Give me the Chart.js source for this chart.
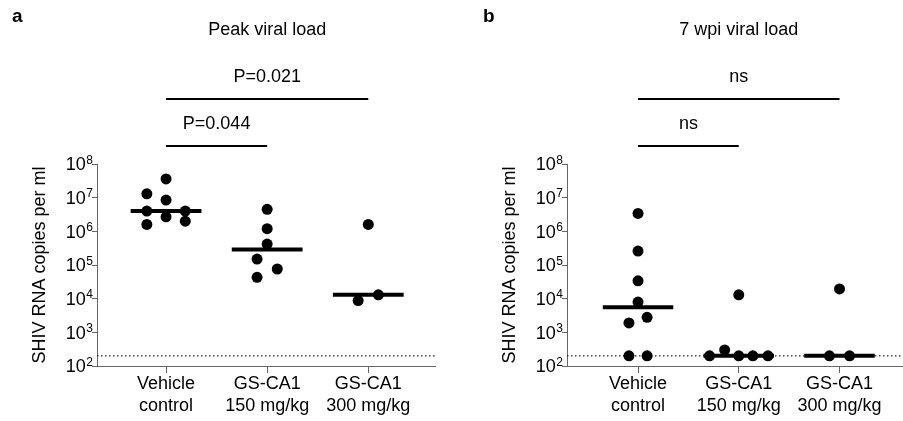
<!DOCTYPE html>
<html><head><meta charset="utf-8">
<script src="https://cdn.jsdelivr.net/npm/chart.js@4.4.1/dist/chart.umd.min.js"></script>
<style>
html,body{margin:0;padding:0;background:#fff;}
#wrap{position:relative;width:903px;height:421px;overflow:hidden;background:#fff;}
canvas{position:absolute;top:0;}
</style></head><body>
<div id="wrap">
<canvas id="cA" width="460" height="421" style="left:0;width:460px;height:421px"></canvas>
<canvas id="cB" width="470" height="421" style="left:460px;width:470px;height:421px"></canvas>
</div>
<script>
// ---------- DATA ----------
const categories = [["Vehicle", "control"], ["GS-CA1", "150 mg/kg"], ["GS-CA1", "300 mg/kg"]];
const yTickExponents = [2, 3, 4, 5, 6, 7, 8];
const detectionLimit = 200;
const yAxisTitle = "SHIV RNA copies per ml";

// Panel a: peak viral load
const peakVehicle = [3.6e7, 1.3e7, 8.5e6, 4.0e6, 4.0e6, 2.7e6, 2.0e6, 1.6e6];
const peak150 = [4.5e6, 1.2e6, 4.2e5, 1.5e5, 7.6e4, 4.3e4];
const peak300 = [1.6e6, 1.3e4, 8.8e3];
const peakMedians = [4.0e6, 2.9e5, 1.3e4];
const peakComparisons = [
  { from: 0, to: 2, label: "P=0.021" },
  { from: 0, to: 1, label: "P=0.044" }
];

// Panel b: 7 wpi viral load
const wpiVehicle = [3.4e6, 2.6e5, 3.4e4, 7.9e3, 2.8e3, 1.9e3, 200, 200];
const wpi150 = [1.3e4, 300, 200, 200, 200, 200];
const wpi300 = [1.95e4, 200, 200];
const wpiMedians = [5.6e3, 200, 200];
const wpiComparisons = [
  { from: 0, to: 2, label: "ns" },
  { from: 0, to: 1, label: "ns" }
];

// horizontal spread of dots within a group (category units)
const peakJitter = [
  [0, -0.19, 0, -0.19, 0.19, 0, 0.19, -0.19],
  [0, 0, 0, -0.1, 0.1, -0.1],
  [0, 0.1, -0.1]
];
const wpiJitter = [
  [0, 0, 0, 0, 0.09, -0.09, -0.09, 0.09],
  [0, -0.14, -0.29, 0, 0.14, 0.29],
  [0, -0.1, 0.1]
];

// ---------- RENDER ----------
const FONT = '"Liberation Sans", Arial, Helvetica, sans-serif';
const BAR_LEVELS = [99, 146];

const decorPlugin = {
  id: 'decor',
  afterDraw(chart, args, o) {
    const ctx = chart.ctx;
    const xs = chart.scales.x, ys = chart.scales.y;
    ctx.save();
    ctx.fillStyle = '#000';
    // y tick labels 10^n
    ys.ticks.forEach(t => {
      const e = String(Math.round(Math.log10(t.value)));
      const py = ys.getPixelForValue(t.value);
      const right = xs.left - 4;
      ctx.font = '12px ' + FONT;
      const ew = ctx.measureText(e).width;
      ctx.textAlign = 'left'; ctx.textBaseline = 'alphabetic';
      ctx.fillText(e, right - ew, py - 0.5);
      ctx.font = '18px ' + FONT;
      ctx.textAlign = 'right'; ctx.textBaseline = 'middle';
      ctx.fillText('10', right - ew - 0.5, py + 1.5);
    });
    // panel letter
    ctx.font = 'bold 19px ' + FONT;
    ctx.textAlign = 'left'; ctx.textBaseline = 'middle';
    ctx.fillText(o.letter, o.letterX, 17);
    // title
    ctx.font = '18px ' + FONT;
    ctx.textAlign = 'center'; ctx.textBaseline = 'middle';
    ctx.fillText(o.title, xs.getPixelForValue(1), 30);
    // comparison bars
    o.comparisons.forEach((c, i) => {
      const x1 = xs.getPixelForValue(c.from), x2 = xs.getPixelForValue(c.to);
      const by = BAR_LEVELS[i];
      ctx.lineWidth = 2; ctx.strokeStyle = '#000';
      ctx.beginPath(); ctx.moveTo(x1, by); ctx.lineTo(x2, by); ctx.stroke();
      ctx.fillText(c.label, (x1 + x2) / 2, by - 22);
    });
    ctx.restore();
  }
};

function makeChart(id, groups, jitter, medians, comparisons, cfg) {
  const datasets = [];
  datasets.push({
    type: 'line', order: 5,
    data: [{ x: cfg.xmin, y: detectionLimit }, { x: cfg.xmax, y: detectionLimit }],
    borderColor: '#222', borderWidth: 1.2, borderDash: [1.5, 2.5],
    pointRadius: 0, fill: false
  });
  medians.forEach((m, g) => {
    datasets.push({
      type: 'line', order: 3,
      data: [{ x: g - 0.35, y: m }, { x: g + 0.35, y: m }],
      borderColor: '#000', borderWidth: 4, borderCapStyle: 'butt',
      pointRadius: 0, fill: false
    });
  });
  groups.forEach((vals, g) => {
    datasets.push({
      type: 'scatter', order: 1,
      data: vals.map((v, i) => ({ x: g + jitter[g][i], y: v })),
      backgroundColor: '#000', borderWidth: 0, pointRadius: 5.5, pointHoverRadius: 5.5
    });
  });
  return new Chart(document.getElementById(id), {
    type: 'scatter',
    data: { datasets },
    plugins: [decorPlugin],
    options: {
      responsive: false, animation: false, devicePixelRatio: 1,
      layout: { padding: { top: 164, right: cfg.padRight, bottom: 0, left: 0 } },
      plugins: {
        legend: { display: false }, tooltip: { enabled: false },
        decor: { letter: cfg.letter, letterX: cfg.letterX, title: cfg.title, comparisons }
      },
      scales: {
        x: {
          type: 'linear', min: cfg.xmin, max: cfg.xmax,
          afterBuildTicks: s => { s.ticks = categories.map((c, i) => ({ value: i })); },
          afterFit: s => { s.height = 55; },
          ticks: {
            callback: (v, i) => categories[i],
            font: { family: FONT, size: 18, lineHeight: 1.17 }, color: '#000',
            padding: 1, maxRotation: 0, autoSkip: false
          },
          grid: { drawOnChartArea: false, drawTicks: true, tickLength: 7, color: '#666', lineWidth: 1 },
          border: { display: true, color: '#666', width: 1 }
        },
        y: {
          type: 'logarithmic', min: 100, max: 1e8,
          afterBuildTicks: s => { s.ticks = yTickExponents.map(e => ({ value: Math.pow(10, e) })); },
          afterFit: s => { s.width = cfg.yWidth; },
          ticks: { callback: () => '', font: { family: FONT, size: 17 } },
          grid: { drawOnChartArea: false, drawTicks: true, tickLength: 5, color: '#666', lineWidth: 1 },
          border: { display: true, color: '#666', width: 1 },
          title: { display: true, text: yAxisTitle, color: '#000',
                   font: { family: FONT, size: 18, lineHeight: 1.2 },
                   padding: { top: cfg.titlePad, bottom: 0 } }
        }
      }
    }
  });
}

makeChart('cA', [peakVehicle, peak150, peak300], peakJitter, peakMedians, peakComparisons,
  { xmin: -0.683, xmax: 2.66, padRight: 25, yWidth: 97, titlePad: 29,
    letter: 'a', letterX: 12, title: 'Peak viral load' });
makeChart('cB', [wpiVehicle, wpi150, wpi300], wpiJitter, wpiMedians, wpiComparisons,
  { xmin: -0.705, xmax: 2.66, padRight: 24, yWidth: 107, titlePad: 39,
    letter: 'b', letterX: 23, title: '7 wpi viral load' });
</script>
</body></html>
